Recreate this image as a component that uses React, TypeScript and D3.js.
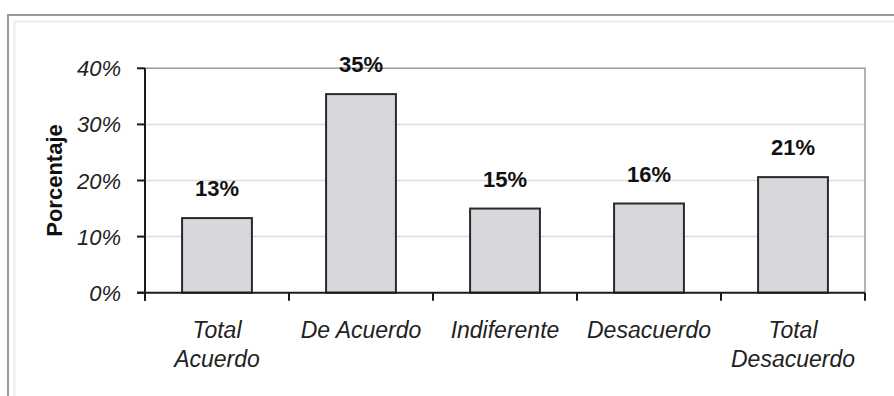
import React from "react";
import * as d3 from "d3";

// Survey answers and their share of respondents
const categories = ["Total Acuerdo", "De Acuerdo", "Indiferente", "Desacuerdo", "Total Desacuerdo"];
const categoryLines = [["Total", "Acuerdo"], ["De Acuerdo"], ["Indiferente"], ["Desacuerdo"], ["Total", "Desacuerdo"]];
const shares = [0.133, 0.354, 0.15, 0.159, 0.206];
const yTicks = [0, 0.1, 0.2, 0.3, 0.4];
const yTitle = "Porcentaje";

const W = 894;
const H = 396;
const plot = { left: 145, right: 865, top: 68.3, bottom: 292.7 };
const FONT = "'Liberation Sans', Arial, sans-serif";

export default function App() {
  const x = d3.scaleBand<string>().domain(categories).range([plot.left, plot.right]).padding(0);
  const y = d3.scaleLinear().domain([0, 0.4]).range([plot.bottom, plot.top]);
  const pct = d3.format(".0%");
  const barW = x.bandwidth() * 0.485;
  const boundaries = [...categories.map((c) => x(c) as number), plot.right];

  return (
    <div style={{ position: "absolute", left: 0, top: 0 }}>
      <svg width={W} height={H} style={{ display: "block", background: "#fff" }}>
        {/* outer frame */}
        <path d={`M14.5,${H} V21.5 H${W}`} fill="none" stroke="#ececec" strokeWidth={2} />
        <path d={`M8,${H} V15 H${W}`} fill="none" stroke="#9a9a9a" strokeWidth={2} />

        {/* gridlines */}
        {yTicks.slice(1, -1).map((t) => (
          <line key={t} x1={plot.left} x2={plot.right} y1={y(t)} y2={y(t)} stroke="#dcdcdc" strokeWidth={1.5} />
        ))}
        {/* plot top and right border */}
        <path
          d={`M${plot.left},${y(0.4)} H${plot.right} V${plot.bottom}`}
          fill="none"
          stroke="#9a9a9a"
          strokeWidth={1.5}
        />

        {/* bars */}
        {categories.map((c, i) => {
          const cx = (x(c) as number) + x.bandwidth() / 2;
          return (
            <rect
              key={c}
              x={cx - barW / 2}
              y={y(shares[i])}
              width={barW}
              height={y(0) - y(shares[i])}
              fill="#d8d7db"
              stroke="#2a2a2a"
              strokeWidth={2}
            />
          );
        })}

        {/* value labels */}
        {categories.map((c, i) => {
          const cx = (x(c) as number) + x.bandwidth() / 2;
          return (
            <text
              key={c}
              x={cx}
              y={y(shares[i]) - 22}
              textAnchor="middle"
              fontFamily={FONT}
              fontWeight="bold"
              fontSize={22}
              fill="#111"
            >
              {pct(shares[i])}
            </text>
          );
        })}

        {/* y axis */}
        <line x1={plot.left} x2={plot.left} y1={plot.top} y2={plot.bottom + 8} stroke="#1a1a1a" strokeWidth={2} />
        {yTicks.map((t) => (
          <g key={t}>
            <line x1={plot.left - 8} x2={plot.left} y1={y(t)} y2={y(t)} stroke="#1a1a1a" strokeWidth={2} />
            <text
              x={121}
              y={y(t) + 8}
              textAnchor="end"
              fontFamily={FONT}
              fontStyle="italic"
              fontSize={22}
              fill="#222"
            >
              {pct(t)}
            </text>
          </g>
        ))}

        {/* x axis */}
        <line x1={plot.left - 8} x2={plot.right} y1={plot.bottom} y2={plot.bottom} stroke="#1a1a1a" strokeWidth={2} />
        {boundaries.map((b, i) => (
          <line key={i} x1={b} x2={b} y1={plot.bottom} y2={plot.bottom + 8} stroke="#1a1a1a" strokeWidth={2} />
        ))}
        {categories.map((c, i) => {
          const cx = (x(c) as number) + x.bandwidth() / 2;
          return (
            <text
              key={c}
              x={cx}
              textAnchor="middle"
              fontFamily={FONT}
              fontStyle="italic"
              fontSize={23}
              fill="#222"
            >
              {categoryLines[i].map((line, j) => (
                <tspan key={j} x={cx} y={338 + j * 29.3}>
                  {line}
                </tspan>
              ))}
            </text>
          );
        })}

        {/* y title */}
        <text
          transform={`translate(62,${(plot.top + plot.bottom) / 2}) rotate(-90)`}
          textAnchor="middle"
          fontFamily={FONT}
          fontWeight="bold"
          fontSize={22}
          fill="#111"
        >
          {yTitle}
        </text>
      </svg>
    </div>
  );
}
